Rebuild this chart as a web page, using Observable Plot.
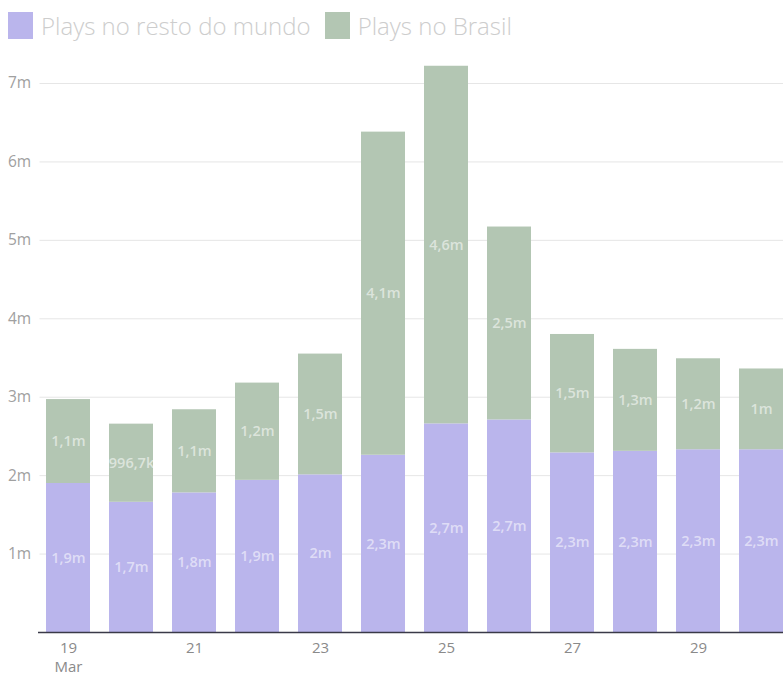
<!DOCTYPE html>
<html>
<head>
<meta charset="utf-8">
<script src="https://cdn.jsdelivr.net/npm/d3@7"></script>
<script src="https://cdn.jsdelivr.net/npm/@observablehq/plot@0.6"></script>
<style>
  html, body { margin: 0; padding: 0; background: #fff; overflow: hidden; }
  #wrap { width: 783px; height: 675px; overflow: hidden; position: relative; font-family: "Open Sans", sans-serif; }
  #legend { position: absolute; left: 8px; top: 11px; height: 28px; display: flex; align-items: center; white-space: nowrap; }
  .sw { display: inline-block; width: 25px; height: 27px; margin-right: 8px; }
  .lab { font-size: 24px; font-weight: 300; color: #cdcdcd; margin-right: 14px; letter-spacing: 0px; }
  #chart { position: absolute; left: 0; top: 56px; }
  #chart svg { max-width: none !important; }
</style>
</head>
<body>
<div id="wrap">
  <div id="legend"></div>
  <div id="chart"></div>
</div>
<script>
const days = ["19","20","21","22","23","24","25","26","27","28","29","30"];
const restoMundo = [1.90, 1.66, 1.78, 1.94, 2.01, 2.26, 2.66, 2.71, 2.29, 2.31, 2.33, 2.33]; // millions
const brasil     = [1.07, 0.9967, 1.06, 1.24, 1.54, 4.12, 4.56, 2.46, 1.51, 1.30, 1.16, 1.03]; // millions
const seriesNames = ["Plays no resto do mundo", "Plays no Brasil"];
const seriesColors = ["#bab5ec", "#b3c6b3"];
const tickDays = ["19","21","23","25","27","29"];
const monthLabel = "Mar";
const yTicks = [1,2,3,4,5,6,7];

const legend = document.getElementById("legend");
seriesNames.forEach((n, i) => {
  const s = document.createElement("span"); s.className = "sw"; s.style.background = seriesColors[i];
  const t = document.createElement("span"); t.className = "lab"; t.textContent = n;
  legend.appendChild(s); legend.appendChild(t);
});

const rows = [];
days.forEach((d, i) => {
  rows.push({day: d, series: seriesNames[0], value: restoMundo[i]});
  rows.push({day: d, series: seriesNames[1], value: brasil[i]});
});

function fmt(v) {
  if (v < 1) return (v * 1000).toFixed(1).replace(/\.0$/, "").replace(".", ",") + "k";
  return v.toFixed(1).replace(/\.0$/, "").replace(".", ",") + "m";
}

const stackOpts = {x: "day", y: "value", z: "series", order: seriesNames};

const chart = Plot.plot({
  width: 793,
  height: 619,
  marginLeft: 36.5,
  marginRight: 0,
  marginTop: 27,
  marginBottom: 43,
  style: {fontFamily: "Open Sans, sans-serif", background: "transparent", maxWidth: "none"},
  x: {domain: days, paddingInner: 0.3, paddingOuter: 0.15, axis: null},
  y: {domain: [0, 7], axis: null},
  color: {domain: seriesNames, range: seriesColors},
  marks: [
    Plot.ruleY(yTicks, {stroke: "#e6e6e6", strokeWidth: 1, insetLeft: 3}),
    Plot.barY(rows, Plot.stackY({...stackOpts, fill: "series"})),
    Plot.text(rows, Plot.stackY({...stackOpts, text: d => fmt(d.value), fill: "#ffffff", fillOpacity: 0.55, fontSize: 14.5, fontWeight: 600})),
    Plot.ruleY([0], {stroke: "#3a3a48", strokeWidth: 1.3, insetLeft: 1.5}),
    Plot.text(yTicks, {y: d => d, text: d => d + "m", frameAnchor: "left", dx: -29, textAnchor: "start", fill: "#a0a0a0", fontSize: 15.5}),
    Plot.text(tickDays, {x: d => d, frameAnchor: "bottom", dy: 16, text: d => d, fill: "#8a8a8a", fontSize: 15, lineAnchor: "middle"}),
    Plot.text([tickDays[0]], {x: d => d, frameAnchor: "bottom", dy: 35, text: () => monthLabel, fill: "#8a8a8a", fontSize: 15, lineAnchor: "middle"})
  ]
});
document.getElementById("chart").appendChild(chart);
</script>
</body>
</html>
